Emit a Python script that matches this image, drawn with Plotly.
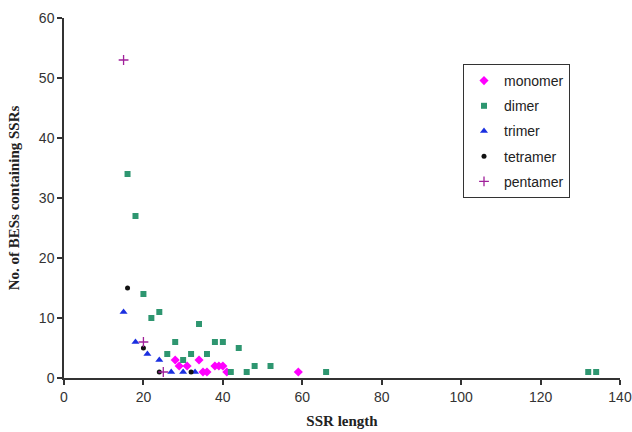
import plotly.graph_objects as go

mono_x = [28, 29, 31, 34, 38, 39, 40, 35, 36, 41, 59]
mono_y = [3, 2, 2, 3, 2, 2, 2, 1, 1, 1, 1]
di_x = [16, 18, 20, 22, 24, 26, 28, 30, 32, 34, 36, 38, 40, 44, 42, 46, 48, 52, 66, 132, 134]
di_y = [34, 27, 14, 10, 11, 4, 6, 3, 4, 9, 4, 6, 6, 5, 1, 1, 2, 2, 1, 1, 1]
tri_x = [15, 18, 21, 24, 27, 30, 33]
tri_y = [11, 6, 4, 3, 1, 1, 1]
tetra_x = [16, 20, 24, 32]
tetra_y = [15, 5, 1, 1]
penta_x = [15, 20, 25]
penta_y = [53, 6, 1]

x_ticks = [0, 20, 40, 60, 80, 100, 120, 140]
y_ticks = [0, 10, 20, 30, 40, 50, 60]

fig = go.Figure()
series = [
    ("monomer", mono_x, mono_y, dict(symbol="diamond", size=7, color="#FF00FF")),
    ("dimer", di_x, di_y, dict(symbol="square", size=6, color="#2E9670")),
    ("trimer", tri_x, tri_y, dict(symbol="triangle-up", size=7, color="#1A2FE0")),
    ("tetramer", tetra_x, tetra_y, dict(symbol="circle", size=5, color="#111111")),
    ("pentamer", penta_x, penta_y, dict(symbol="cross-thin", size=7, color="#A0209A",
                                        line=dict(color="#A0209A", width=1.3))),
]
for name, xs, ys, mk in series:
    fig.add_trace(go.Scatter(x=xs, y=ys, mode="markers", name=name, marker=mk,
                             cliponaxis=False, legendgroup=name))

axis_common = dict(showgrid=False, zeroline=False, showline=True, linecolor="#333333",
                   linewidth=1.5, ticks="outside", ticklen=5, tickcolor="#333333",
                   tickwidth=1.5, automargin=False,
                   tickfont=dict(family="Arial, Liberation Sans", size=14, color="#333333"))

fig.update_layout(
    width=632, height=432,
    paper_bgcolor="white", plot_bgcolor="white",
    margin=dict(l=64, r=12, t=18, b=54),
    xaxis=dict(range=[0, 140], tickvals=x_ticks, **axis_common,
               title=dict(text="<b>SSR length</b>", standoff=12,
                          font=dict(family="Liberation Serif, Times New Roman", size=15, color="#222222"))),
    yaxis=dict(range=[0, 60], tickvals=y_ticks, **axis_common,
               title=dict(text="<b>No. of BESs containing SSRs</b>", standoff=16,
                          font=dict(family="Liberation Serif, Times New Roman", size=15, color="#222222"))),
    legend=dict(x=(463 - 64) / 556, y=(378 - 64) / 360, xanchor="left", yanchor="top",
                bgcolor="white", bordercolor="#333333", borderwidth=1,
                font=dict(family="Arial, Liberation Sans", size=14, color="#222222"),
                tracegroupgap=4, itemwidth=30),
    showlegend=True,
)

fig.write_html("out.html", config={"displayModeBar": False},
               post_script="document.body.style.margin='0';document.body.style.overflow='hidden';")
